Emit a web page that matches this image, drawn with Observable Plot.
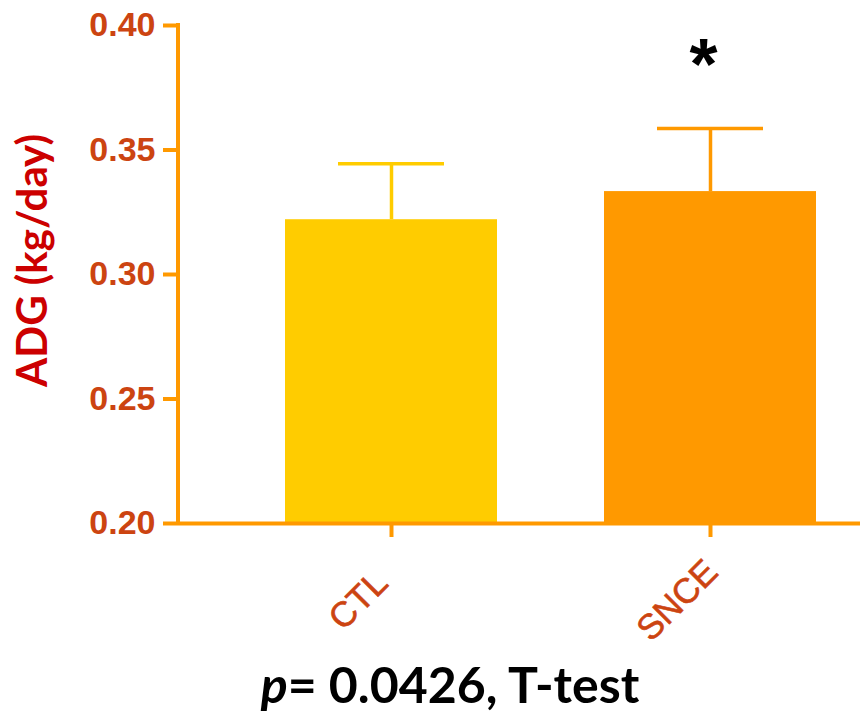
<!DOCTYPE html>
<html><head><meta charset="utf-8">
<script src="https://cdn.jsdelivr.net/npm/d3@7"></script>
<script src="https://cdn.jsdelivr.net/npm/@observablehq/plot@0.6"></script>
<style>
body{margin:0;background:#fff;width:860px;height:717px;overflow:hidden;position:relative}
#caption{position:absolute;left:0;top:654px;width:900px;text-align:center;font-family:Lato,sans-serif;font-weight:700;font-size:50px;line-height:60px;color:#000;white-space:nowrap}
</style></head><body><div id="chart"></div><div id="caption"><i>p</i>= 0.0426, T-test</div>
<script>
const groups = ["CTL", "SNCE"];
const means = [0.322, 0.3333];
const sds = [0.0225, 0.0253];
const barColors = ["#ffcc00", "#ff9900"];
const yTicks = [0.20, 0.25, 0.30, 0.35, 0.40];
const yTitle = "ADG (kg/day)";
const significance = ["", "*"];
const baseline = 0.20;

const data = groups.map((g, i) => ({group: g, mean: means[i], sd: sds[i], color: barColors[i], sig: significance[i]}));
const axisColor = "#ff9900";
const tickText = "#cc4411";

const chart = Plot.plot({
  width: 860,
  height: 650,
  marginLeft: 178,
  marginRight: 0,
  marginTop: 25,
  marginBottom: 127,
  style: {background: "#fff", overflow: "visible"},
  x: {domain: groups, range: [284, 817], paddingInner: 0.334, paddingOuter: 0, axis: null},
  y: {domain: [0.20, 0.40], axis: null},
  marks: [
    Plot.barY(data, {x: "group", y1: d => baseline, y2: "mean", fill: "color"}),
    Plot.ruleX(data, {x: "group", y1: "mean", y2: d => d.mean + d.sd, stroke: "color", strokeWidth: 3.5}),
    Plot.tickY(data, {x: "group", y: d => d.mean + d.sd, stroke: "color", strokeWidth: 3.5, insetLeft: 53, insetRight: 53}),
    Plot.ruleY([baseline], {stroke: axisColor, strokeWidth: 4}),
    (index, scales, values, dims) => {
      const l = d3.create("svg:line")
        .attr("x1", dims.marginLeft).attr("x2", dims.marginLeft)
        .attr("y1", scales.y(0.40) - 2).attr("y2", scales.y(0.20) + 2)
        .attr("stroke", axisColor).attr("stroke-width", 4);
      return l.node();
    },
    Plot.axisY({ticks: yTicks, tickSize: 15, tickPadding: 8, stroke: axisColor, strokeWidth: 4, tickFormat: d3.format(".2f"),
      fill: tickText, fontSize: 34, fontWeight: "bold", fontFamily: "Liberation Sans, Arial, sans-serif", label: null}),
    Plot.axisX({tickSize: 14, stroke: axisColor, strokeWidth: 4, tickFormat: () => "", label: null}),
    Plot.text(data, {x: "group", y: d => baseline, text: "group", rotate: -45, dx: -33, dy: 77, textAnchor: "middle", lineAnchor: "middle",
      fill: tickText, fontSize: 35, fontFamily: "Liberation Sans, Arial, sans-serif", stroke: tickText, strokeWidth: 0.6}),
    Plot.text(data, {x: "group", y: d => d.mean + d.sd, text: "sig", dx: -7, dy: -63, fontSize: 72, fontWeight: "bold", fill: "#000",
      fontFamily: "Liberation Sans, Arial, sans-serif", lineAnchor: "middle"}),
    Plot.text([yTitle], {frameAnchor: "left", rotate: -90, dx: -145, dy: -14, fill: "#cc0000", fontSize: 42, fontWeight: "bold",
      fontFamily: "Lato, sans-serif", textAnchor: "middle", lineAnchor: "middle"})
  ]
});
document.getElementById("chart").appendChild(chart);
</script></body></html>
